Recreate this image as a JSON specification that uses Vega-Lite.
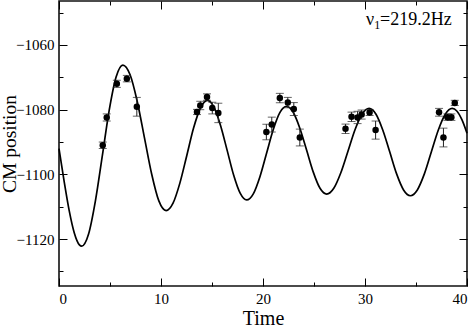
{
  "$schema": "https://vega.github.io/schema/vega-lite/v6.json",
  "width": 408,
  "height": 285,
  "autosize": {"type": "none"},
  "padding": {"left": 59, "top": 1, "right": 9, "bottom": 41},
  "background": "white",
  "config": {
    "view": {"stroke": "#111111", "strokeWidth": 1.6},
    "axis": {
      "labelFont": "Liberation Serif",
      "titleFont": "Liberation Serif",
      "labelFontSize": 15,
      "titleFontSize": 20,
      "titleFontWeight": "normal",
      "labelColor": "black",
      "titleColor": "black",
      "tickColor": "black",
      "tickWidth": 1,
      "domain": false,
      "grid": false
    },
    "text": {"font": "Liberation Serif"}
  },
  "datasets": {
    "curve": [
      {"t": 0, "y": -1092.0}, {"t": 0.5, "y": -1102.1}, {"t": 1.0, "y": -1111.2}, {"t": 1.5, "y": -1118.1}, {"t": 2.0, "y": -1121.8},
      {"t": 2.23, "y": -1122.2}, {"t": 2.9, "y": -1118.45}, {"t": 3.57, "y": -1108.2}, {"t": 4.25, "y": -1094.2}, {"t": 4.92, "y": -1080.2},
      {"t": 5.59, "y": -1069.95}, {"t": 6.26, "y": -1066.2}, {"t": 6.97, "y": -1069.2}, {"t": 7.67, "y": -1077.45}, {"t": 8.38, "y": -1088.7},
      {"t": 9.09, "y": -1099.95}, {"t": 9.79, "y": -1108.2}, {"t": 10.5, "y": -1111.2}, {"t": 11.18, "y": -1108.9}, {"t": 11.85, "y": -1102.7},
      {"t": 12.53, "y": -1094.15}, {"t": 13.2, "y": -1085.6}, {"t": 13.88, "y": -1079.4}, {"t": 14.55, "y": -1077.1}, {"t": 15.19, "y": -1079.2},
      {"t": 15.83, "y": -1084.8}, {"t": 16.48, "y": -1092.5}, {"t": 17.12, "y": -1100.2}, {"t": 17.76, "y": -1105.8}, {"t": 18.4, "y": -1107.9},
      {"t": 19.05, "y": -1106.0}, {"t": 19.7, "y": -1100.7}, {"t": 20.35, "y": -1093.45}, {"t": 21.0, "y": -1086.2}, {"t": 21.65, "y": -1080.9},
      {"t": 22.3, "y": -1079.0}, {"t": 22.96, "y": -1080.8}, {"t": 23.62, "y": -1085.8}, {"t": 24.28, "y": -1092.55}, {"t": 24.93, "y": -1099.3},
      {"t": 25.59, "y": -1104.3}, {"t": 26.25, "y": -1106.1}, {"t": 26.94, "y": -1104.3}, {"t": 27.63, "y": -1099.5}, {"t": 28.33, "y": -1092.85},
      {"t": 29.02, "y": -1086.2}, {"t": 29.71, "y": -1081.4}, {"t": 30.4, "y": -1079.6}, {"t": 31.08, "y": -1081.4}, {"t": 31.75, "y": -1086.35},
      {"t": 32.43, "y": -1093.1}, {"t": 33.1, "y": -1099.85}, {"t": 33.78, "y": -1104.8}, {"t": 34.45, "y": -1106.6}, {"t": 35.13, "y": -1104.8},
      {"t": 35.82, "y": -1099.85}, {"t": 36.5, "y": -1093.1}, {"t": 37.18, "y": -1086.35}, {"t": 37.87, "y": -1081.4}, {"t": 38.55, "y": -1079.6},
      {"t": 39.0, "y": -1080.4}, {"t": 39.5, "y": -1083.1}, {"t": 40.0, "y": -1087.3}
    ],
    "pts": [
      {"t": 4.29, "y": -1091.0, "lo": -1092.0, "hi": -1090.0},
      {"t": 4.68, "y": -1082.4, "lo": -1083.5, "hi": -1081.3},
      {"t": 5.67, "y": -1072.0, "lo": -1073.1, "hi": -1070.9},
      {"t": 6.65, "y": -1070.4, "lo": -1071.4, "hi": -1069.4},
      {"t": 7.63, "y": -1079.1, "lo": -1082.0, "hi": -1076.2},
      {"t": 13.53, "y": -1080.7, "lo": -1081.5, "hi": -1079.9},
      {"t": 13.85, "y": -1078.7, "lo": -1080.0, "hi": -1077.4},
      {"t": 14.51, "y": -1076.1, "lo": -1077.1, "hi": -1075.1},
      {"t": 15.03, "y": -1079.5, "lo": -1081.3, "hi": -1077.7},
      {"t": 15.62, "y": -1081.0, "lo": -1084.0, "hi": -1078.0},
      {"t": 20.33, "y": -1086.9, "lo": -1089.3, "hi": -1084.5},
      {"t": 20.86, "y": -1084.6, "lo": -1086.9, "hi": -1082.3},
      {"t": 21.65, "y": -1076.4, "lo": -1077.85, "hi": -1074.95},
      {"t": 22.43, "y": -1077.8, "lo": -1079.4, "hi": -1076.2},
      {"t": 23.02, "y": -1079.8, "lo": -1081.8, "hi": -1077.8},
      {"t": 23.61, "y": -1088.6, "lo": -1091.2, "hi": -1086.0},
      {"t": 28.09, "y": -1085.9, "lo": -1087.35, "hi": -1084.45},
      {"t": 28.68, "y": -1082.2, "lo": -1083.65, "hi": -1080.75},
      {"t": 29.27, "y": -1082.4, "lo": -1084.3, "hi": -1080.5},
      {"t": 29.67, "y": -1081.5, "lo": -1082.9, "hi": -1080.1},
      {"t": 30.45, "y": -1080.9, "lo": -1081.8, "hi": -1080.0},
      {"t": 31.04, "y": -1086.3, "lo": -1089.1, "hi": -1083.5},
      {"t": 37.26, "y": -1080.8, "lo": -1082.0, "hi": -1079.6},
      {"t": 37.69, "y": -1088.6, "lo": -1091.5, "hi": -1085.7},
      {"t": 38.08, "y": -1082.3, "lo": -1083.3, "hi": -1081.3},
      {"t": 38.47, "y": -1082.3, "lo": -1083.3, "hi": -1081.3},
      {"t": 38.8, "y": -1077.9, "lo": -1078.7, "hi": -1077.1}
    ],
    "note": [
      {"t": 38.5, "y": -1053.8, "label": "=219.2Hz", "nu": "ν", "sub": "1"}
    ]
  },
  "layer": [
    {
      "data": {"name": "curve"},
      "mark": {"type": "line", "color": "black", "strokeWidth": 1.7, "interpolate": "monotone"},
      "encoding": {
        "x": {"field": "t", "type": "quantitative", "scale": {"domain": [0, 40], "nice": false, "zero": false},
              "axis": {"orient": "bottom", "values": [0, 10, 20, 30, 40], "ticks": false, "labelPadding": 5, "labelFont": "Liberation Serif", "labelFontSize": 15, "title": "Time", "titleFont": "Liberation Serif", "titlePadding": 2, "format": "d"}},
        "y": {"field": "y", "type": "quantitative", "scale": {"domain": [-1134.5, -1046.4], "nice": false, "zero": false},
              "axis": {"orient": "left", "values": [-1120, -1100, -1080, -1060], "ticks": false, "labelPadding": 5, "labelFont": "Liberation Serif", "labelFontSize": 15, "format": "d", "title": "CM position", "titleFont": "Liberation Serif", "titleFontSize": 19.5, "titlePadding": -4}}
      }
    },
    {
      "data": {"name": "pts"},
      "mark": {"type": "errorbar", "color": "#222222", "ticks": {"size": 8, "thickness": 1}, "rule": {"strokeWidth": 1}},
      "encoding": {
        "x": {"field": "t", "type": "quantitative", "scale": {"domain": [0, 40], "nice": false, "zero": false},
              "axis": {"orient": "bottom", "values": [0, 10, 20, 30, 40], "labels": false, "title": null, "tickSize": -8}},
        "y": {"field": "lo", "type": "quantitative", "scale": {"domain": [-1134.5, -1046.4], "nice": false, "zero": false},
              "axis": {"orient": "left", "values": [-1120, -1100, -1080, -1060], "labels": false, "title": null, "tickSize": -8}},
        "y2": {"field": "hi"}
      }
    },
    {
      "data": {"name": "pts"},
      "mark": {"type": "point", "filled": true, "color": "black", "size": 42, "opacity": 1},
      "encoding": {
        "x": {"field": "t", "type": "quantitative", "scale": {"domain": [0, 40], "nice": false, "zero": false},
              "axis": {"orient": "bottom", "values": [5, 15, 25, 35], "labels": false, "title": null, "tickSize": -4}},
        "y": {"field": "y", "type": "quantitative", "scale": {"domain": [-1134.5, -1046.4], "nice": false, "zero": false},
              "axis": {"orient": "left", "values": [-1130, -1110, -1090, -1070, -1050], "labels": false, "title": null, "tickSize": -4}}
      }
    },
    {
      "data": {"name": "note"},
      "mark": {"type": "text", "align": "right", "baseline": "alphabetic", "fontSize": 18, "color": "black"},
      "encoding": {
        "x": {"field": "t", "type": "quantitative", "scale": {"domain": [0, 40], "nice": false, "zero": false},
              "axis": {"orient": "top", "values": [0, 10, 20, 30, 40], "labels": false, "title": null, "tickSize": -8}},
        "y": {"field": "y", "type": "quantitative", "scale": {"domain": [-1134.5, -1046.4], "nice": false, "zero": false},
              "axis": {"orient": "right", "values": [-1120, -1100, -1080, -1060], "labels": false, "title": null, "tickSize": -8}},
        "text": {"field": "label"}
      }
    },
    {
      "data": {"name": "note"},
      "mark": {"type": "text", "align": "right", "baseline": "alphabetic", "fontSize": 12, "color": "black", "dx": -71.5, "dy": 4},
      "encoding": {
        "x": {"field": "t", "type": "quantitative", "scale": {"domain": [0, 40], "nice": false, "zero": false},
              "axis": {"orient": "top", "values": [5, 15, 25, 35], "labels": false, "title": null, "tickSize": -4}},
        "y": {"field": "y", "type": "quantitative", "scale": {"domain": [-1134.5, -1046.4], "nice": false, "zero": false},
              "axis": {"orient": "right", "values": [-1130, -1110, -1090, -1070, -1050], "labels": false, "title": null, "tickSize": -4}},
        "text": {"field": "sub"}
      }
    },
    {
      "data": {"name": "note"},
      "mark": {"type": "text", "align": "right", "baseline": "alphabetic", "fontSize": 18, "color": "black", "dx": -77.5},
      "encoding": {
        "x": {"field": "t", "type": "quantitative", "scale": {"domain": [0, 40], "nice": false, "zero": false}, "axis": null},
        "y": {"field": "y", "type": "quantitative", "scale": {"domain": [-1134.5, -1046.4], "nice": false, "zero": false}, "axis": null},
        "text": {"field": "nu"}
      }
    }
  ],
  "resolve": {"axis": {"x": "independent", "y": "independent"}}
}
